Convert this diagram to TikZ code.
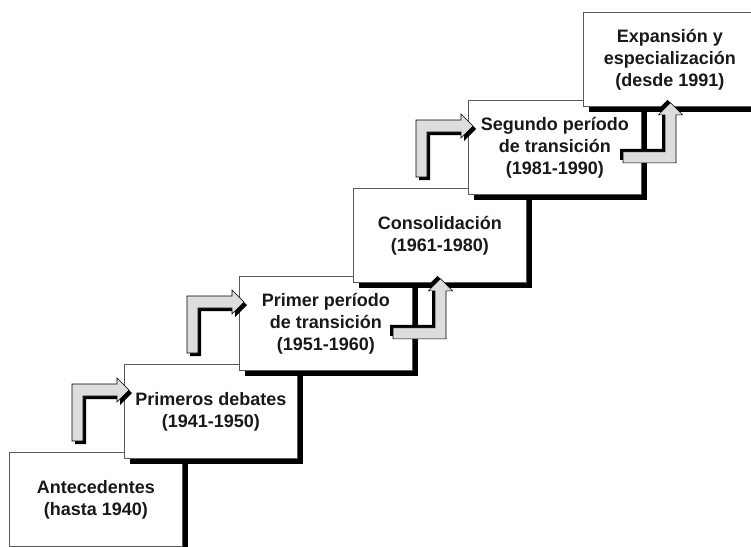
\documentclass[tikz,border=0pt]{standalone}
\usepackage{fontspec}
\setmainfont{Liberation Sans}
\usetikzlibrary{shadows}
\definecolor{arrowgray}{RGB}{221,221,221}
\definecolor{boxline}{RGB}{90,90,90}
\definecolor{txt}{RGB}{25,25,25}
\tikzset{
  stepbox/.style={draw=boxline, line width=0.8pt, fill=white, anchor=north west,
    minimum width=173pt, minimum height=94pt, inner sep=0pt, align=center,
    text=txt, font=\fontsize{18}{22}\selectfont\bfseries,
    drop shadow={shadow xshift=6pt, shadow yshift=-6pt, fill=black, opacity=1}},
  arrowbody/.style={fill=arrowgray, draw=black, line width=0.6pt, line join=miter},
  arrowshadow/.style={fill=black},
  arrA/.pic={
    \path[arrowshadow, shift={(3,3)}] (-52,77) -- (-52,20) -- (-7,20) -- (-7,14) -- (5,26) -- (-7,38) -- (-7,32) -- (-41,32) -- (-41,77) -- cycle;
    \path[arrowbody] (-52,77) -- (-52,20) -- (-7,20) -- (-7,14) -- (5,26) -- (-7,38) -- (-7,32) -- (-41,32) -- (-41,77) -- cycle;
  },
  arrB/.pic={
    \path[arrowshadow, shift={(-3,-3)}] (40,56) -- (40,45) -- (82,45) -- (82,8) -- (75.5,8) -- (87.5,-4) -- (99.5,8) -- (93,8) -- (93,56) -- cycle;
    \path[arrowbody] (40,56) -- (40,45) -- (82,45) -- (82,8) -- (75.5,8) -- (87.5,-4) -- (99.5,8) -- (93,8) -- (93,56) -- cycle;
  }
}
\begin{document}
\begin{tikzpicture}[x=1pt,y=-1pt]
\useasboundingbox (0,0) rectangle (751,546);
\fill[white] (0,0) rectangle (751,546);
\clip (0,0) rectangle (751,546);
\node[stepbox] (b1) at (9,452) {Antecedentes\\(hasta 1940)};
\node[stepbox] (b2) at (124,364) {Primeros debates\\(1941-1950)};
\node[stepbox] (b3) at (239,276) {Primer período\\de transición\\(1951-1960)};
\node[stepbox] (b4) at (353,188) {Consolidación\\(1961-1980)};
\node[stepbox] (b5) at (468,100) {Segundo período\\de transición\\(1981-1990)};
\node[stepbox] (b6) at (583,12) {Expansión y\\especialización\\(desde 1991)};
\pic at (b2.north west) {arrA};
\pic at (b3.north west) {arrA};
\pic at (b5.north west) {arrA};
\pic at (b4.south west) {arrB};
\pic at (b6.south west) {arrB};
\end{tikzpicture}
\end{document}
